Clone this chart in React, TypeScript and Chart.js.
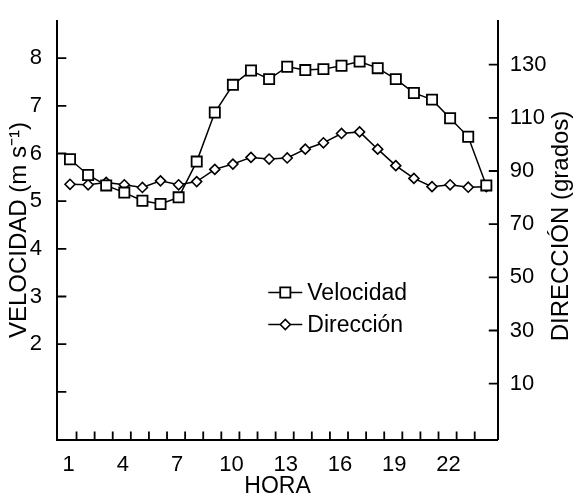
import { useEffect, useRef } from 'react';
import { Chart, registerables } from 'chart.js';

Chart.register(...registerables);

// Hour of day (local time)
const hours = [1, 2, 3, 4, 5, 6, 7, 8, 9, 10, 11, 12, 13, 14, 15, 16, 17, 18, 19, 20, 21, 22, 23, 24];
// Mean wind speed, m/s
const velocidad = [5.88, 5.55, 5.33, 5.18, 5.01, 4.94, 5.08, 5.83, 6.86, 7.44, 7.74, 7.56, 7.82, 7.75, 7.77, 7.84, 7.93, 7.79, 7.56, 7.27, 7.13, 6.74, 6.35, 5.33];
// Mean wind direction, degrees
const direccion = [85.0, 84.8, 85.7, 84.8, 83.8, 86.3, 84.8, 86.0, 90.6, 92.6, 95.1, 94.5, 94.9, 98.2, 100.6, 104.1, 104.7, 98.2, 92.0, 87.2, 84.1, 84.8, 83.9, 84.1];

const horaTicks = [1, 4, 7, 10, 13, 16, 19, 22];
const velocidadTicks = [1, 2, 3, 4, 5, 6, 7, 8];
const direccionTicks = [10, 30, 50, 70, 90, 110, 130];
// small hour marks along the bottom axis
const minorHourTicks = [1.36, 2.36, 3.36, 4.36, 5.36, 6.36, 7.36, 8.36, 9.36, 10.36, 11.36, 12.36, 13.36, 14.36, 15.36, 16.36, 17.36, 18.36, 19.36, 20.36, 21.36, 22.36, 23.36];

const velocidadTitle = 'VELOCIDAD (m s\u207B\u00B9)';
const direccionTitle = 'DIRECCIÓN (grados)';

const FONT = "'Liberation Sans', Arial, Helvetica, sans-serif";
const INK = '#000';

function markerPath(ctx: CanvasRenderingContext2D, style: string, x: number, y: number, r: number) {
  ctx.beginPath();
  if (style === 'rect') {
    const s = Math.SQRT1_2 * r;
    ctx.rect(x - s, y - s, 2 * s, 2 * s);
  } else {
    ctx.moveTo(x - r, y);
    ctx.lineTo(x, y - r);
    ctx.lineTo(x + r, y);
    ctx.lineTo(x, y + r);
    ctx.closePath();
  }
}

// Inward tick marks on the three axes
const axisTicks = {
  id: 'axisTicks',
  beforeDatasetsDraw(chart: any) {
    const { ctx, chartArea: a, scales } = chart;
    ctx.save();
    ctx.strokeStyle = INK;
    ctx.lineWidth = 1.8;
    ctx.beginPath();
    for (const v of velocidadTicks) {
      const y = scales.y.getPixelForValue(v);
      ctx.moveTo(a.left, y);
      ctx.lineTo(a.left + 9, y);
    }
    for (const v of direccionTicks) {
      const y = scales.y1.getPixelForValue(v);
      ctx.moveTo(a.right, y);
      ctx.lineTo(a.right - 9, y);
    }
    for (const h of minorHourTicks) {
      const x = scales.x.getPixelForValue(h);
      ctx.moveTo(x, a.bottom);
      ctx.lineTo(x, a.bottom - 8);
    }
    ctx.stroke();
    ctx.restore();
  },
};

// Right-hand axis title (reads bottom to top) and the in-plot key
const annotations = {
  id: 'annotations',
  afterDraw(chart: any) {
    const { ctx, chartArea: a } = chart;
    ctx.save();
    ctx.fillStyle = INK;
    ctx.font = `24px ${FONT}`;
    ctx.textAlign = 'center';
    ctx.textBaseline = 'middle';
    ctx.translate(561.5, (a.top + a.bottom) / 2 - 4);
    ctx.rotate(-Math.PI / 2);
    ctx.fillText(direccionTitle, 0, 0);
    ctx.restore();

    const keyLeft = a.left + 211;
    const keyTop = a.top + 272;
    chart.data.datasets.forEach((ds: any, i: number) => {
      const y = keyTop + i * 32;
      ctx.save();
      ctx.strokeStyle = INK;
      ctx.lineWidth = ds.borderWidth;
      ctx.beginPath();
      ctx.moveTo(keyLeft, y);
      ctx.lineTo(keyLeft + 34, y);
      ctx.stroke();
      markerPath(ctx, ds.pointStyle, keyLeft + 17, y, ds.pointRadius);
      ctx.fillStyle = '#fff';
      ctx.fill();
      ctx.lineWidth = ds.pointBorderWidth;
      ctx.stroke();
      ctx.fillStyle = INK;
      ctx.font = `23px ${FONT}`;
      ctx.textAlign = 'left';
      ctx.textBaseline = 'middle';
      ctx.fillText(ds.label, keyLeft + 39, y + 1);
      ctx.restore();
    });
  },
};

export default function App() {
  const canvasRef = useRef<HTMLCanvasElement>(null);

  useEffect(() => {
    const tickFont = { family: FONT, size: 22 };
    const chart = new Chart(canvasRef.current!, {
      type: 'line',
      data: {
        datasets: [
          {
            label: 'Velocidad',
            data: hours.map((h, i) => ({ x: h, y: velocidad[i] })),
            yAxisID: 'y',
            borderColor: INK,
            borderWidth: 1.5,
            pointStyle: 'rect',
            pointRadius: 7.2,
            pointBackgroundColor: '#fff',
            pointBorderColor: INK,
            pointBorderWidth: 1.8,
            tension: 0,
          },
          {
            label: 'Dirección',
            data: hours.map((h, i) => ({ x: h, y: direccion[i] })),
            yAxisID: 'y1',
            borderColor: INK,
            borderWidth: 1.5,
            pointStyle: 'rectRot',
            pointRadius: 5,
            pointBackgroundColor: '#fff',
            pointBorderColor: INK,
            pointBorderWidth: 1.6,
            tension: 0,
          },
        ],
      },
      options: {
        animation: false,
        responsive: true,
        maintainAspectRatio: false,
        events: [],
        layout: { padding: { top: 18, left: 0, right: 0, bottom: 0 } },
        plugins: { legend: { display: false }, tooltip: { enabled: false } },
        scales: {
          x: {
            type: 'linear',
            min: 0.298,
            max: 24.635,
            afterBuildTicks: (s: any) => {
              s.ticks = horaTicks.map((v) => ({ value: v }));
            },
            afterFit: (s: any) => {
              s.height = 59.5;
            },
            ticks: {
              font: tickFont,
              color: INK,
              padding: 4,
              labelOffset: -1.5,
              maxRotation: 0,
              autoSkip: false,
              callback: (v: any) => String(v),
            },
            grid: { display: false },
            border: { display: true, color: INK, width: 2 },
            title: {
              display: true,
              text: 'HORA',
              color: INK,
              font: { family: FONT, size: 23, lineHeight: 1 },
              padding: { top: 0, bottom: 0.5 },
            },
          },
          y: {
            type: 'linear',
            position: 'left',
            min: 0,
            max: 8.79,
            afterBuildTicks: (s: any) => {
              s.ticks = velocidadTicks.map((v) => ({ value: v }));
            },
            afterFit: (s: any) => {
              s.width = 57.3;
            },
            ticks: {
              font: tickFont,
              color: INK,
              padding: 7.3,
              callback: (v: any) => (v === 1 ? '' : String(v)),
            },
            grid: { display: false },
            border: { display: true, color: INK, width: 2 },
            title: {
              display: true,
              text: velocidadTitle,
              color: INK,
              font: { family: FONT, size: 24, lineHeight: 1 },
              padding: { top: 7, bottom: 0 },
            },
          },
          y1: {
            type: 'linear',
            position: 'right',
            min: -11,
            max: 146.6,
            afterBuildTicks: (s: any) => {
              s.ticks = direccionTicks.map((v) => ({ value: v }));
            },
            afterFit: (s: any) => {
              s.width = 76.2;
            },
            ticks: {
              font: tickFont,
              color: INK,
              padding: 4,
              callback: (v: any) => String(v),
            },
            grid: { display: false },
            border: { display: true, color: INK, width: 2 },
            title: { display: false },
          },
        },
      },
      plugins: [axisTicks, annotations],
    });
    return () => chart.destroy();
  }, []);

  return (
    <div style={{ position: 'fixed', left: 0, top: 0, width: 574, height: 499, background: '#fff' }}>
      <canvas ref={canvasRef} />
    </div>
  );
}
